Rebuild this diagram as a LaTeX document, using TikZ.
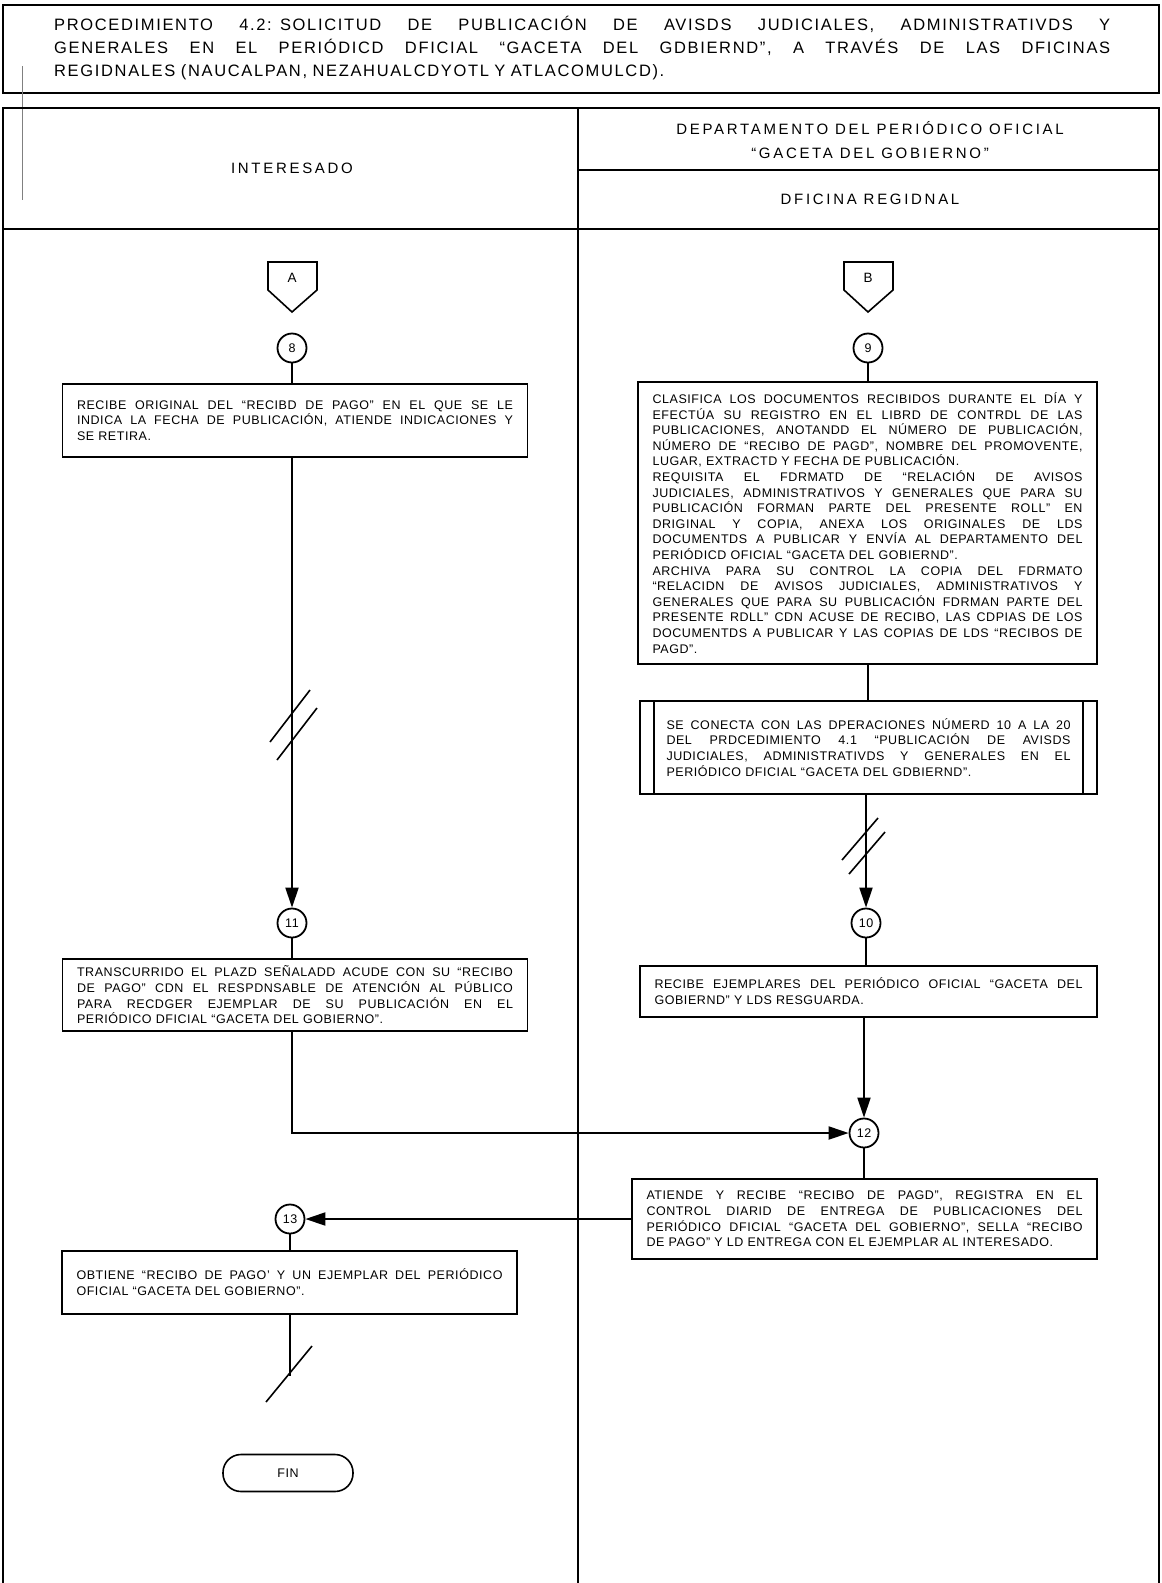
\documentclass[tikz,border=0pt]{standalone}
\usepackage{fontspec}
\setmainfont{Liberation Sans}[LetterSpace=4.5]
\usetikzlibrary{arrows.meta}
\newcommand\jl[1]{\hbox to\hsize{\spaceskip=\fontdimen2\font plus 1fil minus .15em\relax #1}}
\newcommand\lastl[1]{\hbox{#1}}
\newcommand\bodyfont{\fontsize{12.5}{15.6}\selectfont}
\begin{document}
\begin{tikzpicture}[x=1pt,y=-1pt,
  frame/.style={line width=2pt},
  proc/.style={draw, line width=1.8pt, inner ysep=4pt, inner xsep=14.5pt, font=\bodyfont, anchor=north},
  num/.style={draw, circle, line width=1.8pt, minimum size=29pt, inner sep=0pt, font=\fontsize{12.5}{13}\selectfont},
  conn/.style={line width=2pt},
  arr/.style={line width=2pt, -{Triangle[length=20pt,width=13pt]}},
  brk/.style={line width=1.6pt},
  hdr/.style={font=\fontsize{15}{24}\selectfont\addfontfeature{LetterSpace=18}, align=center}]
\useasboundingbox (0,0) rectangle (1162,1583);
\fill[white] (0,0) rectangle (1162,1583);
% title box
\draw[line width=2.6pt] (3,5) rectangle (1159,93);
\node[anchor=north west, inner sep=0pt, text width=1056pt, font=\fontsize{16.5}{23}\selectfont\addfontfeature{LetterSpace=10}] (title) at (54,16) {%
\jl{PROCEDIMIENTO 4.2: SOLICITUD DE PUBLICACIÓN DE AVISDS JUDICIALES, ADMINISTRATIVDS Y}
\jl{GENERALES EN EL PERIÓDICD DFICIAL “GACETA DEL GDBIERND”, A TRAVÉS DE LAS DFICINAS}
\lastl{REGIDNALES (NAUCALPAN, NEZAHUALCDYOTL Y ATLACOMULCD).}};
\draw[line width=0.5pt, gray] (22,66) -- (22,200);
% table frame
\draw[frame] (3,1583) -- (3,108) -- (1159,108) -- (1159,1583);
\draw[frame] (578,108) -- (578,1583);
\draw[frame] (3,229) -- (1159,229);
\draw[frame] (578,170) -- (1159,170);
\node[hdr] (h1) at (292,168) {INTERESADO};
\node[hdr] (h2) at (870,140) {DEPARTAMENTO DEL PERIÓDICO OFICIAL\\“GACETA DEL GOBIERNO”};
\node[hdr] (h3) at (870,199) {DFICINA REGIDNAL};
% off-page connectors
\node[font=\fontsize{13.5}{14}\selectfont] (A) at (292,278) {A};
\draw[line width=1.6pt] (268,262) -- (317,262) -- (317,290) -- (292,312) -- (268,290) -- cycle;
\node[font=\fontsize{13.5}{14}\selectfont] (B) at (868,278) {B};
\draw[line width=1.6pt] (844,262) -- (893,262) -- (893,290) -- (868,312) -- (844,290) -- cycle;
% left column
\node[num] (c8) at (292,348) {8};
\node[proc, text width=436pt, minimum height=73pt] (p8) at (295,383) {%
\jl{RECIBE ORIGINAL DEL “RECIBD DE PAGO” EN EL QUE SE LE}
\jl{INDICA LA FECHA DE PUBLICACIÓN, ATIENDE INDICACIONES Y}
\lastl{SE RETIRA.}};
\node[num] (c11) at (292,923) {11};
\node[proc, text width=436pt, minimum height=72pt] (p11) at (295,958) {%
\jl{TRANSCURRIDO EL PLAZD SEÑALADD ACUDE CON SU “RECIBO}
\jl{DE PAGO” CDN EL RESPDNSABLE DE ATENCIÓN AL PÚBLICO}
\jl{PARA RECDGER EJEMPLAR DE SU PUBLICACIÓN EN EL}
\lastl{PERIÓDICO DFICIAL “GACETA DEL GOBIERNO”.}};
\node[num] (c13) at (290,1219) {13};
\node[proc, text width=426pt, minimum height=63pt] (p13) at (289.5,1250) {%
\jl{OBTIENE “RECIBO DE PAGO’ Y UN EJEMPLAR DEL PERIÓDICO}
\lastl{OFICIAL “GACETA DEL GOBIERNO”.}};
\node[draw, line width=1.6pt, rounded corners=18pt, minimum width=130pt, minimum height=37pt, font=\fontsize{12.5}{13}\selectfont] (fin) at (288,1473) {FIN};
\coordinate (e13) at (290,1376);
% right column
\node[num] (c9) at (868,348) {9};
\node[proc, text width=430pt, minimum height=282pt] (p9) at (867.5,381) {%
\jl{CLASIFICA LOS DOCUMENTOS RECIBIDOS DURANTE EL DÍA Y}
\jl{EFECTÚA SU REGISTRO EN EL LIBRD DE CONTRDL DE LAS}
\jl{PUBLICACIONES, ANOTANDD EL NÚMERO DE PUBLICACIÓN,}
\jl{NÚMERO DE “RECIBO DE PAGD”, NOMBRE DEL PROMOVENTE,}
\lastl{LUGAR, EXTRACTD Y FECHA DE PUBLICACIÓN.}
\jl{REQUISITA EL FDRMATD DE “RELACIÓN DE AVISOS}
\jl{JUDICIALES, ADMINISTRATIVOS Y GENERALES QUE PARA SU}
\jl{PUBLICACIÓN FORMAN PARTE DEL PRESENTE ROLL” EN}
\jl{DRIGINAL Y COPIA, ANEXA LOS ORIGINALES DE LDS}
\jl{DOCUMENTDS A PUBLICAR Y ENVÍA AL DEPARTAMENTO DEL}
\lastl{PERIÓDICD OFICIAL “GACETA DEL GOBIERND”.}
\jl{ARCHIVA PARA SU CONTROL LA COPIA DEL FDRMATO}
\jl{“RELACIDN DE AVISOS JUDICIALES, ADMINISTRATIVOS Y}
\jl{GENERALES QUE PARA SU PUBLICACIÓN FDRMAN PARTE DEL}
\jl{PRESENTE RDLL” CDN ACUSE DE RECIBO, LAS CDPIAS DE LOS}
\jl{DOCUMENTDS A PUBLICAR Y LAS COPIAS DE LDS “RECIBOS DE}
\lastl{PAGD”.}};
\node[proc, text width=404pt, inner xsep=26.5pt, minimum height=93pt] (pr) at (868.5,700) {%
\jl{SE CONECTA CON LAS DPERACIONES NÚMERD 10 A LA 20}
\jl{DEL PRDCEDIMIENTO 4.1 “PUBLICACIÓN DE AVISDS}
\jl{JUDICIALES, ADMINISTRATIVDS Y GENERALES EN EL}
\lastl{PERIÓDICO DFICIAL “GACETA DEL GDBIERND”.}};
\draw[line width=1.6pt] ([xshift=15pt]pr.north west) -- ([xshift=15pt]pr.south west);
\draw[line width=1.6pt] ([xshift=-15pt]pr.north east) -- ([xshift=-15pt]pr.south east);
\node[num] (c10) at (866,923) {10};
\node[proc, text width=428pt, minimum height=51pt] (p10) at (868.5,965) {%
\jl{RECIBE EJEMPLARES DEL PERIÓDICO OFICIAL “GACETA DEL}
\lastl{GOBIERND” Y LDS RESGUARDA.}};
\node[num] (c12) at (864,1133) {12};
\node[proc, text width=436pt, minimum height=80pt] (p12) at (864.5,1178) {%
\jl{ATIENDE Y RECIBE “RECIBO DE PAGD”, REGISTRA EN EL}
\jl{CONTROL DIARID DE ENTREGA DE PUBLICACIONES DEL}
\jl{PERIÓDICO DFICIAL “GACETA DEL GOBIERNO”, SELLA “RECIBO}
\lastl{DE PAGO” Y LD ENTREGA CON EL EJEMPLAR AL INTERESADO.}};
% connectors
\draw[conn] (c8) -- (c8 |- p8.north);
\draw[arr] (p8.south -| c11) -- (c11);
\draw[brk] (270,742) -- (310,690);
\draw[brk] (277,760) -- (317,708);
\draw[conn] (c11) -- (c11 |- p11.north);
\draw[arr] (p11.south -| c11) |- (c12);
\draw[conn] (c9) -- (c9 |- p9.north);
\draw[conn] (p9.south -| c9) -- (c9 |- pr.north);
\draw[arr] (pr.south -| c10) -- (c10);
\draw[brk] (842,860) -- (878,818);
\draw[brk] (849,874) -- (885,832);
\draw[conn] (c10) -- (c10 |- p10.north);
\draw[arr] (p10.south -| c12) -- (c12);
\draw[conn] (c12) -- (c12 |- p12.north);
\draw[arr] (p12.west |- c13) -- (c13);
\draw[conn] (c13) -- (c13 |- p13.north);
\draw[conn] (p13.south -| c13) -- (e13);
\draw[brk] (266,1402) -- (312,1346);
\end{tikzpicture}
\end{document}
